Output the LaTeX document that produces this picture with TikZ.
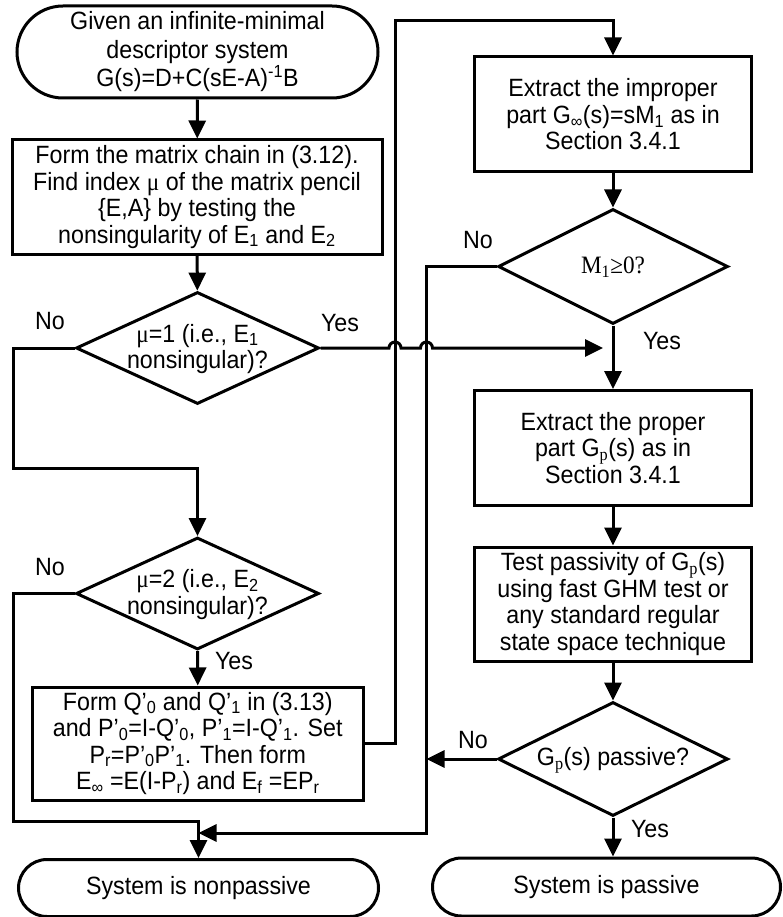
\documentclass[tikz,border=0pt]{standalone}
\usepackage{fontspec}
\setmainfont[FakeStretch=0.93]{Liberation Sans}
\newfontfamily\serifm[FakeStretch=0.93]{Liberation Serif}
\usetikzlibrary{arrows.meta,shapes.geometric,shapes.misc}
\begin{document}
\begin{tikzpicture}[x=1pt,y=-1pt,
  every node/.style={font=\fontsize{25}{26.5}\selectfont},
  arr/.style={line width=3pt,-{Triangle[length=18pt,width=17pt]}},
  procbox/.style={draw,line width=3pt,rectangle,inner sep=0pt,align=center},
  term/.style={draw,line width=3pt,rounded rectangle,inner sep=0pt,align=center},
  dia/.style={draw,line width=3pt,diamond,inner sep=0pt},
  txt/.style={inner sep=0pt,align=center},
  lbl/.style={inner sep=0pt}]
\useasboundingbox (0,0) rectangle (783,917);

% left column
\node[term,minimum width=361pt,minimum height=92pt,font=\fontsize{25}{28.5}\selectfont] (t1) at (197.5,52) {Given an infinite-minimal\\descriptor system\\G(s)=D+C(sE-A)\textsuperscript{-1}B};
\node[procbox,minimum width=370pt,minimum height=114pt] (b1) at (197,197) {Form the matrix chain in (3.12).\\Find index {\serifm μ} of the matrix pencil\\\{E,A\} by testing the\\nonsingularity of E\textsubscript{1} and E\textsubscript{2}};
\node[dia,minimum width=243pt,minimum height=112pt] (d1) at (197.5,348) {};
\node[txt] (d1t) at (197.5,349) {{\serifm μ}=1 (i.e., E\textsubscript{1}\\nonsingular)?};
\node[dia,minimum width=243pt,minimum height=112pt] (d2) at (197.5,593.5) {};
\node[txt] (d2t) at (197.5,594.5) {{\serifm μ}=2 (i.e., E\textsubscript{2}\\nonsingular)?};
\node[procbox,minimum width=331pt,minimum height=113pt] (b2) at (197.75,743.5) {Form Q’\textsubscript{0} and Q’\textsubscript{1} in (3.13)\\and P’\textsubscript{0}=I-Q’\textsubscript{0}, P’\textsubscript{1}=I-Q’\textsubscript{1}. Set\\P\textsubscript{r}=P’\textsubscript{0}P’\textsubscript{1}. Then form\\E\textsubscript{∞} =E(I-P\textsubscript{r}) and E\textsubscript{f} =EP\textsubscript{r}};
\node[term,minimum width=360pt,minimum height=57pt] (tl) at (198.5,888) {System is nonpassive};

% right column
\node[procbox,minimum width=277pt,minimum height=115pt] (r1) at (613,114.5) {Extract the improper\\part G\textsubscript{∞}(s)=sM\textsubscript{1} as in\\Section 3.4.1};
\node[dia,minimum width=230pt,minimum height=115pt] (d3) at (613,266.5) {};
\node[txt] (d3t) at (613,267) {\serifm M\textsubscript{1}≥0?};
\node[procbox,minimum width=277pt,minimum height=115pt] (r2) at (613,448) {Extract the proper\\part G\textsubscript{\serifm p}(s) as in\\Section 3.4.1};
\node[procbox,minimum width=277pt,minimum height=114pt] (r3) at (613,604) {Test passivity of G\textsubscript{\serifm p}(s)\\using fast GHM test or\\any standard regular\\state space technique};
\node[dia,minimum width=230pt,minimum height=114pt] (d4) at (613,759) {};
\node[txt] (d4t) at (613,760) {G\textsubscript{\serifm p}(s) passive?};
\node[term,minimum width=348pt,minimum height=58pt] (tr) at (606.5,887) {System is passive};

% labels
\node[lbl] (n1) at (50,321) {No};
\node[lbl] (y1) at (340,323) {Yes};
\node[lbl] (n2) at (50,567) {No};
\node[lbl] (y2) at (234,661) {Yes};
\node[lbl] (n3) at (478,240) {No};
\node[lbl] (y3) at (662,341) {Yes};
\node[lbl] (n4) at (473,740) {No};
\node[lbl] (y4) at (650,829) {Yes};

% helper coordinates
\coordinate (k1) at (13.5,468);
\coordinate (k2) at (13.5,821.5);
\coordinate (k3) at (395,20.5);
\coordinate (k4) at (426.5,833);
\coordinate (k5) at (198.5,833);
\coordinate (k6) at (426.5,759);
\coordinate (h1) at (389,348);
\coordinate (h2) at (420.5,348);
\coordinate (yend) at (603,348);

% connectors
\draw[arr] (t1) -- (b1);
\draw[arr] (b1) -- (d1);
\draw[arr] (d1.west) -| (k1) -| (d2.north);
\draw[arr] (d2.south) -- (b2.north);
\draw[arr] (d2.west) -| (k2) -| (tl.north);
\draw[arr] (b2.east) -| (k3) -| (r1.north);
\draw[arr] (r1) -- (d3);
\draw[arr] (d3.south) -- (r2.north);
\draw[arr] (r2) -- (r3);
\draw[arr] (r3) -- (d4);
\draw[arr] (d4.south) -- (d4.south |- tr.north);
\draw[arr] (d3.west) -| (k4) -- (k5);
\draw[arr] (d4.west) -- (k6);
\draw[arr] (d1.east) -- (h1) arc[start angle=180,end angle=0,radius=6pt] -- (h2) arc[start angle=180,end angle=0,radius=6pt] -- (yend);
\end{tikzpicture}
\end{document}
